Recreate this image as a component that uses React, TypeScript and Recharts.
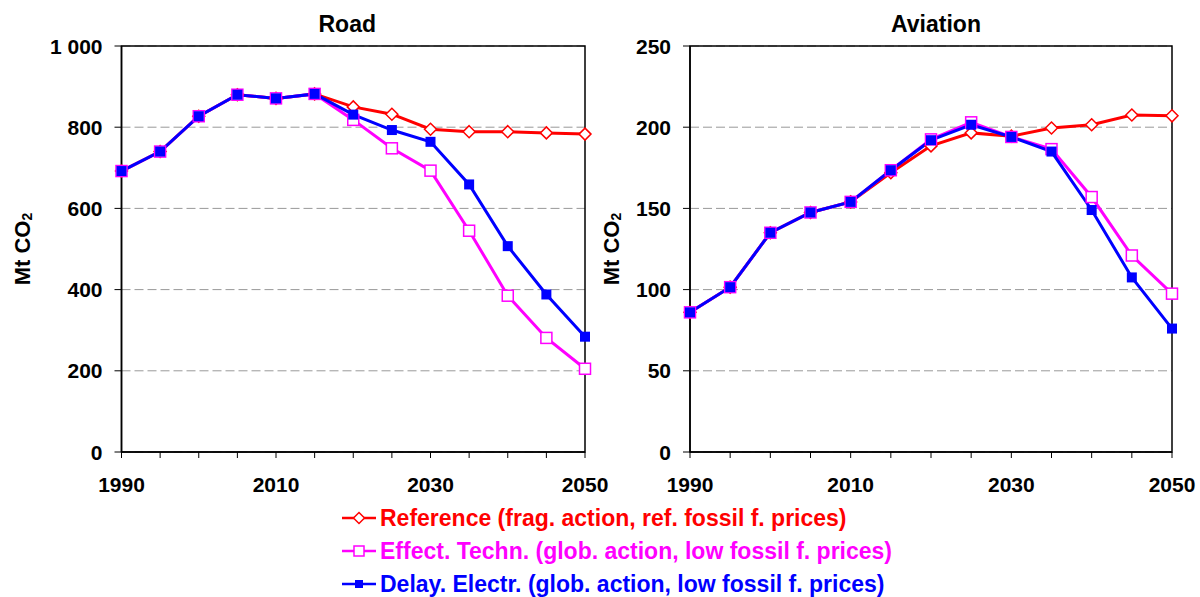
import React from "react";
import {
  LineChart,
  Line,
  XAxis,
  YAxis,
  CartesianGrid,
  ReferenceArea,
  Label,
} from "recharts";

const FONT = "'Liberation Sans', Arial, Helvetica, sans-serif";

const years = [1990, 1995, 2000, 2005, 2010, 2015, 2020, 2025, 2030, 2035, 2040, 2045, 2050];
const labelYears = [1990, 2010, 2030, 2050];

const roadReference = [692, 740, 827, 880, 871, 882, 850, 832, 795, 789, 789, 786, 783];
const roadEffect = [692, 740, 827, 880, 871, 882, 818, 748, 693, 545, 385, 281, 205];
const roadDelay = [692, 740, 827, 880, 871, 882, 831, 793, 764, 659, 507, 388, 284];

const aviationReference = [86, 101.5, 135, 147.5, 154, 172, 188.5, 196.5, 194.5, 199.5, 201.5, 207.5, 207];
const aviationEffect = [86, 101.5, 135, 147.5, 154, 173.5, 192.5, 203, 194, 186.5, 157, 121, 97.5];
const aviationDelay = [86, 101.5, 135, 147.5, 154, 173.5, 192, 201.5, 194, 185, 149, 107.5, 76];

const roadTicks = [0, 200, 400, 600, 800, 1000];
const aviationTicks = [0, 50, 100, 150, 200, 250];

const seriesNames = [
  "Reference (frag. action, ref. fossil f. prices)",
  "Effect. Techn. (glob. action, low fossil f. prices)",
  "Delay. Electr. (glob. action, low fossil f. prices)",
];
const RED = "#FF0000";
const MAGENTA = "#FF00FF";
const BLUE = "#0000FF";

const buildRows = (ref: number[], eff: number[], del: number[]) =>
  years.map((y, i) => ({ year: y, reference: ref[i], effect: eff[i], delay: del[i] }));

const roadData = buildRows(roadReference, roadEffect, roadDelay);
const aviationData = buildRows(aviationReference, aviationEffect, aviationDelay);

const diamondDot = (props: any) => {
  const { cx, cy, key, index } = props;
  if (cx == null || cy == null) return <g key={key ?? index} />;
  const r = 6;
  return (
    <path
      key={key ?? index}
      d={`M${cx},${cy - r} L${cx + r},${cy} L${cx},${cy + r} L${cx - r},${cy} Z`}
      fill="#fff"
      stroke={RED}
      strokeWidth={1.5}
    />
  );
};

const openSquareDot = (props: any) => {
  const { cx, cy, key, index } = props;
  if (cx == null || cy == null) return <g key={key ?? index} />;
  const s = 11;
  return (
    <rect
      key={key ?? index}
      x={cx - s / 2}
      y={cy - s / 2}
      width={s}
      height={s}
      fill="#fff"
      stroke={MAGENTA}
      strokeWidth={1.5}
    />
  );
};

const filledSquareDot = (props: any) => {
  const { cx, cy, key, index } = props;
  if (cx == null || cy == null) return <g key={key ?? index} />;
  const s = 10;
  return <rect key={key ?? index} x={cx - s / 2} y={cy - s / 2} width={s} height={s} fill={BLUE} />;
};

const XTick = (props: any) => {
  const { x, y, payload } = props;
  if (!labelYears.includes(payload.value)) return <g />;
  return (
    <text x={x} y={y} dy="0.71em" textAnchor="middle" fill="#000" fontFamily={FONT} fontWeight="bold" fontSize={21}>
      {payload.value}
    </text>
  );
};

const formatThousands = (v: number) => (v >= 1000 ? String(v).replace(/\B(?=(\d{3})+(?!\d))/g, " ") : String(v));

const YTick = (props: any) => {
  const { x, y, payload } = props;
  return (
    <text x={x} y={y} dy="0.36em" textAnchor="end" fill="#000" fontFamily={FONT} fontWeight="bold" fontSize={21}>
      {formatThousands(payload.value)}
    </text>
  );
};

const makeYLabel = (lx: number, ly: number) => () => (
  <text
    x={lx}
    y={ly}
    transform={`rotate(-90 ${lx} ${ly})`}
    textAnchor="middle"
    dominantBaseline="central"
    fill="#000"
    fontFamily={FONT}
    fontWeight="bold"
    fontSize={22}
  >
    Mt CO
    <tspan fontSize={14} dy={5}>2</tspan>
  </text>
);

type PanelProps = {
  title: string;
  data: any[];
  max: number;
  ticks: number[];
  left: number;
  width: number;
  yAxisWidth: number;
  marginRight: number;
  labelX: number;
  titleShift: number;
};

const Panel = ({ title, data, max, ticks, left, width, yAxisWidth, marginRight, labelX, titleShift }: PanelProps) => {
  const plotLeft = yAxisWidth;
  const plotRight = width - marginRight;
  return (
    <div style={{ position: "absolute", left, top: 0, width, height: 500 }}>
      <div
        style={{
          position: "absolute",
          left: plotLeft + titleShift,
          width: plotRight - plotLeft,
          top: 9,
          textAlign: "center",
          fontFamily: FONT,
          fontWeight: "bold",
          fontSize: 23,
          lineHeight: "30px",
          color: "#000",
        }}
      >
        {title}
      </div>
      <LineChart width={width} height={500} data={data} margin={{ top: 46, right: marginRight, bottom: 0, left: 0 }}>
        <CartesianGrid horizontal vertical={false} stroke="#999" strokeDasharray="9 4" strokeWidth={1} />
        <XAxis
          dataKey="year"
          type="number"
          domain={[1990, 2050]}
          ticks={years}
          interval={0}
          height={48}
          tickSize={6}
          tickMargin={19}
          tick={<XTick />}
          axisLine={{ stroke: "#000", strokeWidth: 1.5 }}
          tickLine={{ stroke: "#000", strokeWidth: 1 }}
          allowDecimals={false}
        />
        <YAxis
          type="number"
          domain={[0, max]}
          ticks={ticks}
          interval={0}
          width={yAxisWidth}
          tickSize={7}
          tickMargin={12}
          tick={<YTick />}
          axisLine={{ stroke: "#000", strokeWidth: 1.5 }}
          tickLine={{ stroke: "#000", strokeWidth: 1 }}
        >
          <Label content={makeYLabel(labelX, 249)} />
        </YAxis>
        <ReferenceArea
          x1={1990}
          x2={2050}
          y1={0}
          y2={max}
          fill="none"
          fillOpacity={0}
          stroke="#000"
          strokeWidth={1.5}
          ifOverflow="visible"
        />
        <Line
          dataKey="reference"
          stroke={RED}
          strokeWidth={3}
          dot={diamondDot}
          activeDot={false}
          isAnimationActive={false}
        />
        <Line
          dataKey="effect"
          stroke={MAGENTA}
          strokeWidth={3}
          dot={openSquareDot}
          activeDot={false}
          isAnimationActive={false}
        />
        <Line
          dataKey="delay"
          stroke={BLUE}
          strokeWidth={3}
          dot={filledSquareDot}
          activeDot={false}
          isAnimationActive={false}
        />
      </LineChart>
    </div>
  );
};

const LegendMarker = ({ kind, color, cx, cy }: { kind: string; color: string; cx: number; cy: number }) => {
  if (kind === "diamond") {
    const r = 5.5;
    return (
      <path
        d={`M${cx},${cy - r} L${cx + r},${cy} L${cx},${cy + r} L${cx - r},${cy} Z`}
        fill="#fff"
        stroke={color}
        strokeWidth={1.5}
      />
    );
  }
  if (kind === "open") {
    const s = 10;
    return <rect x={cx - s / 2} y={cy - s / 2} width={s} height={s} fill="#fff" stroke={color} strokeWidth={1.5} />;
  }
  const s = 8;
  return <rect x={cx - s / 2} y={cy - s / 2} width={s} height={s} fill={color} />;
};

const legendItems = [
  { name: seriesNames[0], color: RED, kind: "diamond" },
  { name: seriesNames[1], color: MAGENTA, kind: "open" },
  { name: seriesNames[2], color: BLUE, kind: "filled" },
];

const Legend3 = () => (
  <svg style={{ position: "absolute", left: 0, top: 500 }} width={1200} height={97}>
    {legendItems.map((it, i) => {
      const cy = 18 + i * 33;
      return (
        <g key={it.name}>
          <line x1={342} x2={376} y1={cy} y2={cy} stroke={it.color} strokeWidth={2.5} />
          <LegendMarker kind={it.kind} color={it.color} cx={359} cy={cy} />
          <text
            x={380}
            y={cy}
            dy="0.36em"
            fill={it.color}
            fontFamily={FONT}
            fontWeight="bold"
            fontSize={23}
          >
            {it.name}
          </text>
        </g>
      );
    })}
  </svg>
);

export default function App() {
  return (
    <div style={{ position: "absolute", left: 0, top: 0, width: 1200, height: 597, background: "#fff", overflow: "hidden" }}>
      <Panel
        title="Road"
        data={roadData}
        max={1000}
        ticks={roadTicks}
        left={0}
        width={640}
        yAxisWidth={121.5}
        marginRight={55}
        labelX={22}
        titleShift={-6}
      />
      <Panel
        title="Aviation"
        data={aviationData}
        max={250}
        ticks={aviationTicks}
        left={600}
        width={600}
        yAxisWidth={90}
        marginRight={28}
        labelX={11}
        titleShift={5}
      />
      <Legend3 />
    </div>
  );
}
